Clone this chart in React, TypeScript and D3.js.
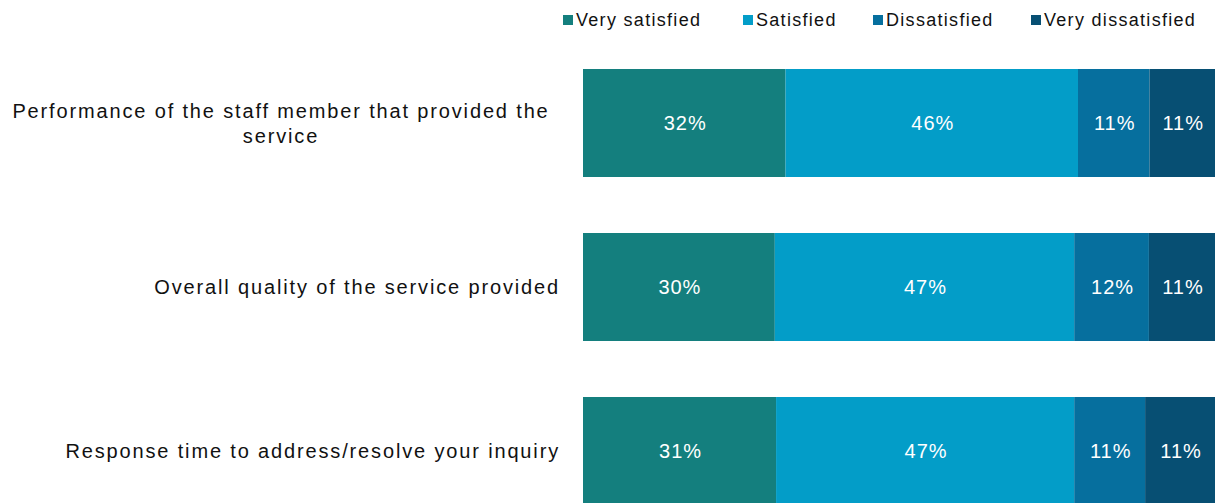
import { useEffect, useRef } from "react";
import * as d3 from "d3";

const categories = [
  "Performance of the staff member that provided the\nservice",
  "Overall quality of the service provided",
  "Response time to address/resolve your inquiry",
];
const seriesNames = ["Very satisfied", "Satisfied", "Dissatisfied", "Very dissatisfied"];
// shares; labels show them rounded
const verySatisfied = [32.0, 30.3, 30.5];
const satisfied = [46.2, 47.3, 47.1];
const dissatisfied = [11.3, 11.8, 11.2];
const veryDissatisfied = [10.5, 10.6, 11.1];
const colors = ["#147f7e", "#039dc8", "#066f9e", "#074f73"];

export default function App() {
  let ref = useRef(null);

  useEffect(() => {
    const pWidth = 1215;
    const pHeight = 503;
    const font = "'Liberation Sans', Arial, sans-serif";

    let rows = categories.map((c, i) => ({
      name: c,
      values: [verySatisfied[i], satisfied[i], dissatisfied[i], veryDissatisfied[i]],
    }));

    //x scale for the percentages
    let x = d3.scaleLinear().domain([0, 100]).range([583, 1216]);

    //y band for the categories
    let y = d3
      .scaleBand()
      .domain(categories)
      .range([69, 505])
      .paddingInner(56 / 164)
      .paddingOuter(0);

    const svg = d3
      .select(ref.current)
      .append("svg")
      .attr("width", pWidth)
      .attr("height", pHeight)
      .style("position", "absolute")
      .style("left", 0)
      .style("top", 0)
      .style("font-family", font);

    const row = svg
      .selectAll("g.row")
      .data(rows)
      .enter()
      .append("g")
      .attr("class", "row")
      .attr("transform", (d) => "translate(0," + y(d.name) + ")");

    row.each(function (d) {
      let cum = 0;
      const g = d3.select(this);
      d.values.forEach((v, j) => {
        const x0 = x(cum);
        const x1 = x(cum + v);
        cum += v;
        g.append("rect")
          .attr("x", x0)
          .attr("y", 0)
          .attr("width", x1 - x0)
          .attr("height", y.bandwidth())
          .attr("fill", colors[j]);
        g.append("text")
          .attr("x", (x0 + Math.min(x1, pWidth)) / 2 + 1)
          .attr("y", y.bandwidth() / 2)
          .attr("dy", "0.35em")
          .attr("text-anchor", "middle")
          .attr("fill", "white")
          .style("font-size", "20px")
          .style("letter-spacing", "1px")
          .text(Math.round(v) + "%");
      });

      //category label (wrapped ones are centred like Excel)
      const lines = d.name.split("\n");
      const t = g
        .append("text")
        .attr("fill", "#111")
        .style("font-size", "20px")
        .style("letter-spacing", "1.85px")
        .attr("text-anchor", lines.length > 1 ? "middle" : "end");
      lines.forEach((line, k) => {
        t.append("tspan")
          .attr("x", lines.length > 1 ? 281 : 560)
          .attr("y", y.bandwidth() / 2 + (k - (lines.length - 1) / 2) * 25)
          .attr("dy", "0.35em")
          .text(line);
      });
    });

    //legend
    const legendX = [563, 743, 873, 1031];
    const legend = svg
      .selectAll("g.legend")
      .data(seriesNames)
      .enter()
      .append("g")
      .attr("class", "legend")
      .attr("transform", (d, i) => "translate(" + legendX[i] + ",20)");
    legend
      .append("rect")
      .attr("x", 0)
      .attr("y", -5)
      .attr("width", 10)
      .attr("height", 10)
      .attr("fill", (d, i) => colors[i]);
    legend
      .append("text")
      .attr("x", 13)
      .attr("dy", "0.35em")
      .attr("fill", "#111")
      .style("font-size", "18px")
      .style("letter-spacing", "1.3px")
      .text((d) => d);

    return () => {
      d3.select(ref.current).selectAll("*").remove();
    };
  });

  return <div ref={ref} />;
}
